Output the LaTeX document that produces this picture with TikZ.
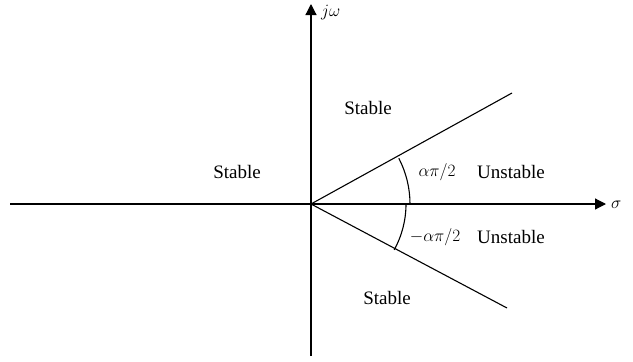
\documentclass[tikz,border=0pt]{standalone}
\usepackage{fontspec}
\setmainfont{Liberation Serif}
\usetikzlibrary{arrows.meta}
\begin{document}
\begin{tikzpicture}[x=1pt,y=-1pt,
  axis/.style={line width=1.2pt,-{Triangle[length=11pt,width=11pt]}},
  ray/.style={line width=1.1pt},
  lbl/.style={font=\fontsize{19}{22}\selectfont,inner sep=0pt}]
\useasboundingbox (0,0) rectangle (633,362);
\coordinate (O) at (311,204);
\coordinate (xl) at (10,204);
\coordinate (xr) at (606,204);
\coordinate (yb) at (311,356);
\coordinate (yt) at (311,4);
\coordinate (up) at (512,93);
\coordinate (lo) at (507,308);
\draw[axis] (xl) -- (xr);
\draw[axis] (yb) -- (yt);
\draw[ray] (O) -- (up);
\draw[ray] (O) -- (lo);
\draw[ray] ([shift={(28.9:95)}]O) arc[start angle=28.9,end angle=0,radius=95];
\draw[ray] ([shift={(0:99)}]O) arc[start angle=0,end angle=-27.5,radius=99];
\node[lbl,anchor=west] (jw) at (321,13) {$j\omega$};
\node[lbl,anchor=west] (sg) at (611,205) {$\sigma$};
\node[lbl] (s1) at (237,172) {Stable};
\node[lbl] (s2) at (368,108) {Stable};
\node[lbl] (s3) at (387,298) {Stable};
\node[lbl] (a1) at (437,172) {$\alpha\pi/2$};
\node[lbl] (u1) at (511,172) {Unstable};
\node[lbl] (a2) at (435,237) {$-\alpha\pi/2$};
\node[lbl] (u2) at (511,237) {Unstable};
\end{tikzpicture}
\end{document}
